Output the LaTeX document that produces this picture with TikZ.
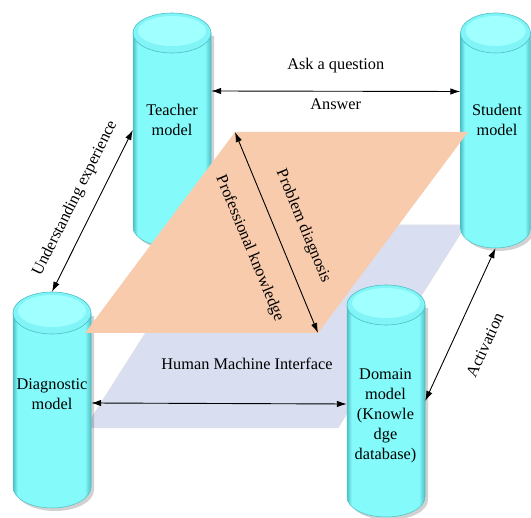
\documentclass[tikz,border=0pt]{standalone}
\usepackage{fontspec}
\setmainfont{Liberation Serif}
\usetikzlibrary{arrows.meta}
\definecolor{cylmid}{RGB}{132,250,250}
\definecolor{cyldark}{RGB}{78,192,198}
\definecolor{cyltop}{RGB}{128,244,246}
\definecolor{cyllight}{RGB}{160,255,255}
\definecolor{peach}{RGB}{247,203,171}
\definecolor{bluepl}{RGB}{217,223,241}
\pgfdeclarehorizontalshading{cylshade}{100bp}{color(0bp)=(cyldark); color(25bp)=(cyldark); color(28bp)=(cylmid); color(71bp)=(cylmid); color(75bp)=(cyldark); color(100bp)=(cyldark)}
\newcommand\mycyl[6]{%
  \pgfmathsetmacro\cyT{-(#3)-(#6)}%
  \pgfmathsetmacro\cyB{-(#4)+(#6)}%
  \fill[black,opacity=.18] (#2-#5+3,\cyT-3) -- (#2-#5+3,\cyB-3) arc[start angle=180,end angle=360,x radius=#5,y radius=#6] -- (#2+#5+3,\cyT-3) -- cycle;
  \shadedraw[shading=cylshade,draw=cyldark,line width=.5pt] (#2-#5,\cyT) -- (#2-#5,\cyB) arc[start angle=180,end angle=360,x radius=#5,y radius=#6] -- (#2+#5,\cyT) -- cycle;
  \fill[cyltop,draw=cyldark,line width=.6pt] (#2,\cyT) ellipse[x radius=#5,y radius=#6];
  \fill[cyllight] (#2,\cyT+2) ellipse[x radius=#5-5,y radius=#6-5];
  \node[inner sep=0,minimum width={2*(#5)},minimum height={(#4)-(#3)}] (#1) at (#2,{-((#3)+(#4))/2}) {};
}
\tikzset{
  arr/.style={{Latex[length=10pt,width=6.5pt]}-{Latex[length=10pt,width=6.5pt]},line width=0.9pt,black},
  lbl/.style={inner sep=0pt},
  cyltext/.style={align=center,inner sep=0pt}
}
\begin{document}
\begin{tikzpicture}[x=1pt,y=1pt,every node/.style={font=\fontsize{16.3}{20}\selectfont}]
\useasboundingbox (0,0) rectangle (531,-518);
% blue plane
\coordinate (b1) at (85,-428);
\coordinate (b2) at (338,-428);
\coordinate (b3) at (466,-225);
\coordinate (b4) at (214,-225);
\fill[bluepl,draw=black!12,line width=.5pt] (b1) -- (b2) -- (b3) -- (b4) -- cycle;
% cylinders
\mycyl{teacher}{172}{13}{247}{39}{20}
\mycyl{student}{495.5}{13}{248}{35}{20}
\mycyl{diag}{52}{292}{508}{39}{21}
\mycyl{domain}{386}{285}{517}{39}{20}
% peach plane
\coordinate (p1) at (85,-333);
\coordinate (p2) at (318,-333);
\coordinate (p3) at (468,-132);
\coordinate (p4) at (235,-132);
\fill[peach] (p1) -- (p2) -- (p3) -- (p4) -- cycle;
% texts
\node[cyltext] (tt) at (172,-120) {Teacher\\model};
\node[cyltext] (st) at (497,-120) {Student\\model};
\node[cyltext] (dt) at (52,-394) {Diagnostic\\model};
\node[cyltext] (mt) at (385.5,-416) {Domain\\model\\(Knowle\\dge\\database)};
\node[lbl] (hmi) at (247,-364) {Human Machine Interface};
% connectors
\draw[arr] ([yshift=39pt]teacher.east) -- ([yshift=39pt]student.west)
  node[lbl,midway,above=17.5pt] (ask) {Ask a question}
  node[lbl,midway,below=7.3pt] (ans) {Answer};
\draw[arr] (diag.north) -- (teacher.west)
  node[lbl,pos=.52,sloped,above=13pt] (ue) {Understanding experience};
\draw[arr] (p4) -- (p2)
  node[lbl,pos=.52,sloped,above=19pt] (pd) {Problem diagnosis}
  node[lbl,pos=.52,sloped,below=23pt] (pk) {Professional knowledge};
\draw[arr] (domain.east) -- (student.south)
  node[lbl,pos=.45,sloped,below=25pt] (act) {Activation};
\draw[arr] ([yshift=-3pt]diag.east) -- ([yshift=-3pt]domain.west);
\end{tikzpicture}
\end{document}
